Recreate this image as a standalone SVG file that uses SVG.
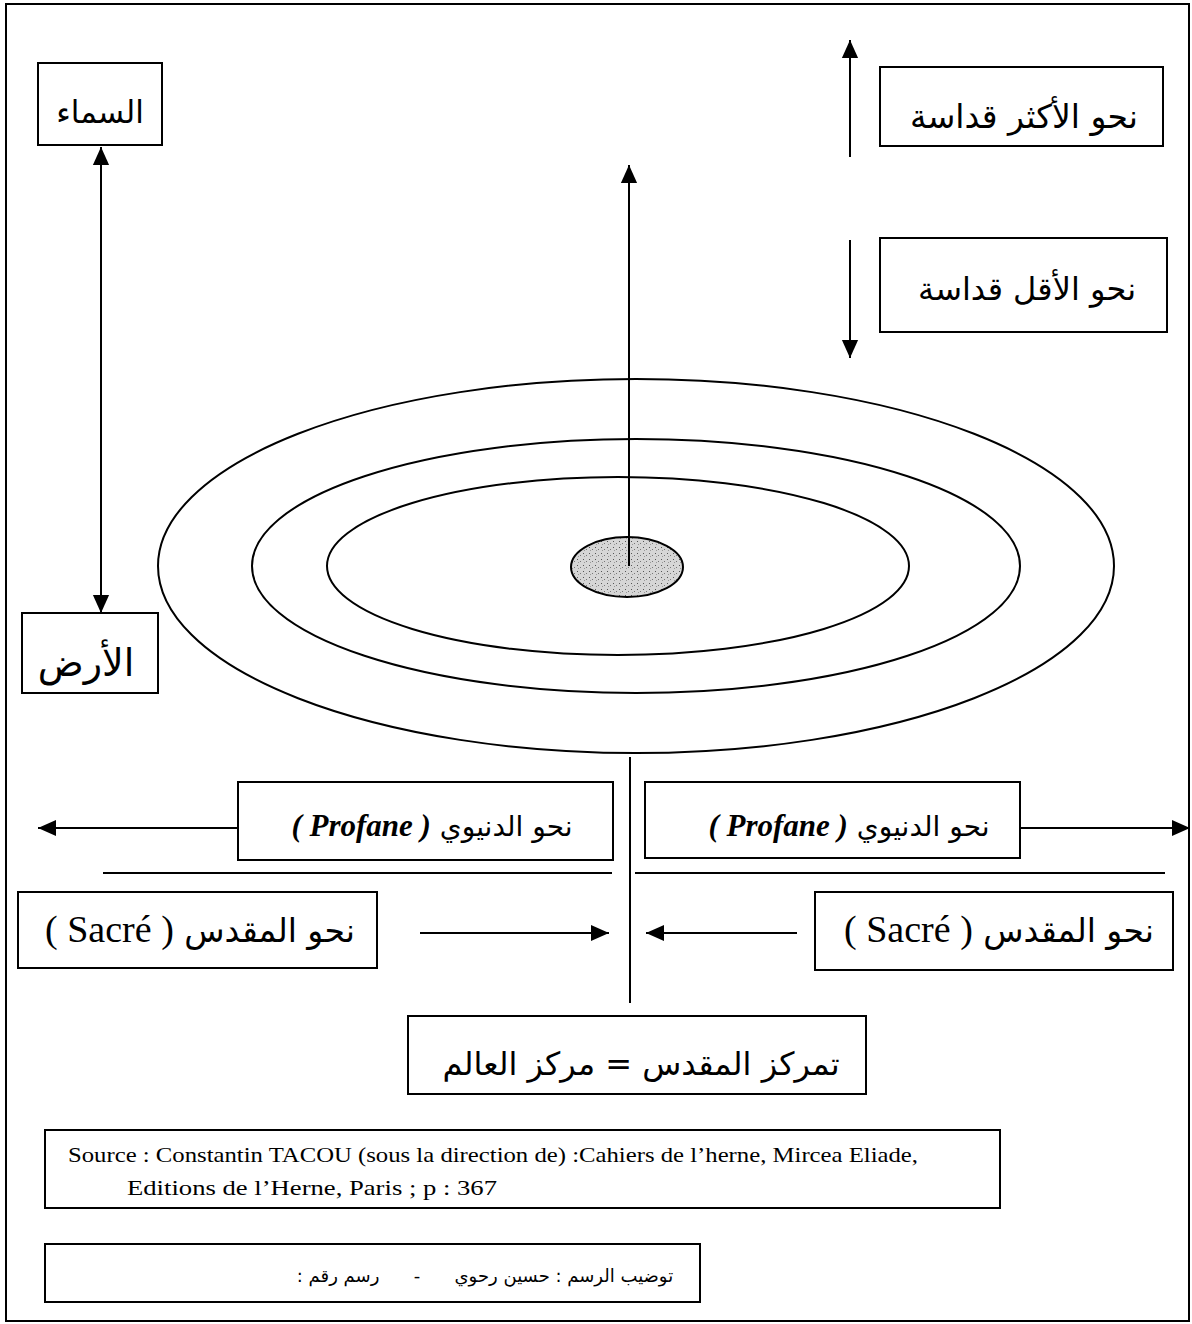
<svg xmlns="http://www.w3.org/2000/svg" width="1192" height="1324" viewBox="0 0 1192 1324">
<style>
.box{fill:#fff;stroke:#000;stroke-width:2}
.ln{fill:none;stroke:#000;stroke-width:2}
.ar{font-family:"DejaVu Sans","Noto Sans",sans-serif;fill:#000}
.lat{font-family:"Liberation Serif",serif;fill:#000}
.ell{fill:none;stroke:#000;stroke-width:2}
</style>
<defs>
<marker id="ah" viewBox="0 0 20 20" refX="20" refY="10" markerWidth="20" markerHeight="18" markerUnits="userSpaceOnUse" orient="auto-start-reverse">
<path d="M0,1 L20,10 L0,19 Z" fill="#000"/>
</marker>
<pattern id="stip" width="6" height="6" patternUnits="userSpaceOnUse">
<rect width="6" height="6" fill="#d6d6d6"/>
<rect x="1" y="1" width="1" height="1" fill="#555"/>
<rect x="4" y="3" width="1" height="1" fill="#777"/>
<rect x="2" y="4" width="1" height="1" fill="#999"/>
</pattern>
</defs>
<rect x="0" y="0" width="1192" height="1324" fill="#fff"/>
<rect id="frame" x="6" y="4" width="1183" height="1317" fill="none" stroke="#000" stroke-width="2"/>

<g id="ellipses">
<ellipse class="ell" cx="636" cy="566" rx="478" ry="187"/>
<ellipse class="ell" cx="636" cy="566" rx="384" ry="127"/>
<ellipse class="ell" cx="618" cy="566" rx="291" ry="89"/>
<ellipse id="center" cx="627" cy="567" rx="56" ry="30" fill="url(#stip)" stroke="#000" stroke-width="2"/>
</g>

<g id="connectors">
<line class="ln" x1="101" y1="147" x2="101" y2="613" marker-start="url(#ah)" marker-end="url(#ah)"/>
<line class="ln" x1="850" y1="157" x2="850" y2="40" marker-end="url(#ah)"/>
<line class="ln" x1="850" y1="240" x2="850" y2="358" marker-end="url(#ah)"/>
<line class="ln" x1="629" y1="566" x2="629" y2="165" marker-end="url(#ah)"/>
<line class="ln" x1="630" y1="757" x2="630" y2="1003"/>
<line class="ln" x1="238" y1="828" x2="38" y2="828" marker-end="url(#ah)"/>
<line class="ln" x1="1020" y1="828" x2="1190" y2="828" marker-end="url(#ah)"/>
<line class="ln" x1="420" y1="933" x2="609" y2="933" marker-end="url(#ah)"/>
<line class="ln" x1="797" y1="933" x2="646" y2="933" marker-end="url(#ah)"/>
<line class="ln" x1="103" y1="873" x2="612" y2="873"/>
<line class="ln" x1="635" y1="873" x2="1165" y2="873"/>
</g>

<g id="sky">
<rect class="box" x="38" y="63" width="124" height="82"/>
<text class="ar" x="100" y="123" font-size="31" text-anchor="middle">السماء</text>
</g>
<g id="earth">
<rect class="box" x="22" y="613" width="136" height="80"/>
<text class="ar" x="86" y="676" font-size="38" text-anchor="middle">الأرض</text>
</g>
<g id="more-sacred">
<rect class="box" x="880" y="67" width="283" height="79"/>
<text class="ar" x="1024" y="128" font-size="33" text-anchor="middle">نحو الأكثر قداسة</text>
</g>
<g id="less-sacred">
<rect class="box" x="880" y="238" width="287" height="94"/>
<text class="ar" x="1027" y="300" font-size="32" text-anchor="middle">نحو الأقل قداسة</text>
</g>
<g id="profane-left">
<rect class="box" x="238" y="782" width="375" height="78"/>
<text class="ar" x="432" y="836" font-size="28" text-anchor="middle" direction="rtl">نحو الدنيوي <tspan class="lat" font-size="31" font-weight="bold" font-style="italic">( Profane )</tspan></text>
</g>
<g id="profane-right">
<rect class="box" x="645" y="782" width="375" height="76"/>
<text class="ar" x="849" y="836" font-size="28" text-anchor="middle" direction="rtl">نحو الدنيوي <tspan class="lat" font-size="31" font-weight="bold" font-style="italic">( Profane )</tspan></text>
</g>
<g id="sacre-left">
<rect class="box" x="18" y="892" width="359" height="76"/>
<text class="ar" x="200" y="942" font-size="33" text-anchor="middle" direction="rtl">نحو المقدس <tspan class="lat" font-size="38">( Sacré )</tspan></text>
</g>
<g id="sacre-right">
<rect class="box" x="815" y="892" width="358" height="78"/>
<text class="ar" x="999" y="942" font-size="33" text-anchor="middle" direction="rtl">نحو المقدس <tspan class="lat" font-size="38">( Sacré )</tspan></text>
</g>
<g id="world-center">
<rect class="box" x="408" y="1016" width="458" height="78"/>
<text class="ar" x="641" y="1075" font-size="32" text-anchor="middle" direction="rtl">تمركز المقدس = مركز العالم</text>
</g>
<g id="source">
<rect class="box" x="45" y="1130" width="955" height="78"/>
<text class="lat" x="68" y="1162" font-size="21" textLength="850" lengthAdjust="spacingAndGlyphs">Source : Constantin TACOU (sous la direction de) :Cahiers de l’herne, Mircea Eliade,</text>
<text class="lat" x="127" y="1195" font-size="21" textLength="370" lengthAdjust="spacingAndGlyphs">Editions de l’Herne, Paris ; p : 367</text>
</g>
<g id="credit">
<rect class="box" x="45" y="1244" width="655" height="58"/>
<text class="ar" x="485" y="1282" font-size="18" text-anchor="middle" direction="rtl" xml:space="preserve">توضيب الرسم : حسين رحوي      -      رسم رقم :</text>
</g>
</svg>
